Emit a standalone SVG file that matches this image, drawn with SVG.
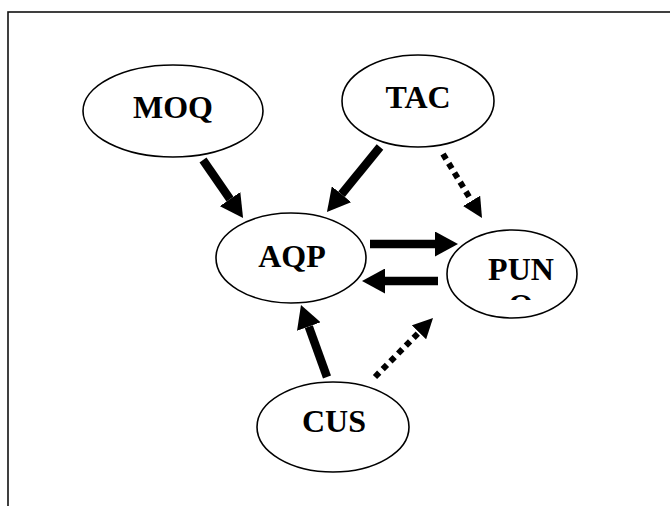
<svg xmlns="http://www.w3.org/2000/svg" width="670" height="506" viewBox="0 0 670 506">
<style>
.node ellipse{fill:#fff;stroke:#000;stroke-width:1.6}
.node text{font-family:"Liberation Serif","Times New Roman",serif;font-weight:bold;font-size:32px;text-anchor:middle;fill:#000}
.solid{stroke:#000;stroke-width:8.5;fill:none}
.dotted{stroke:#000;stroke-width:6;stroke-dasharray:6 5;fill:none}
</style>
<defs>
<marker id="head" markerUnits="userSpaceOnUse" markerWidth="23" markerHeight="25" viewBox="0 0 23 25" refX="0" refY="12.5" orient="auto"><path d="M0,0 L23,12.5 L0,25 z" fill="#000"/></marker>
<marker id="headd" markerUnits="userSpaceOnUse" markerWidth="20" markerHeight="20" viewBox="0 0 20 20" refX="0" refY="10" orient="auto"><path d="M0,0 L20,10 L0,20 z" fill="#000"/></marker>
<clipPath id="punclip"><rect x="440" y="230" width="150" height="70"/></clipPath>
</defs>
<rect x="8" y="12" width="700" height="520" fill="none" stroke="#111" stroke-width="1.6"/>
<g id="connectors">
<line class="solid" x1="203" y1="160" x2="230" y2="199.1" marker-end="url(#head)"/>
<line class="solid" x1="380" y1="147" x2="341.5" y2="194.2" marker-end="url(#head)"/>
<line class="dotted" x1="443" y1="154" x2="471.6" y2="200.9" marker-end="url(#headd)"/>
<line class="solid" x1="370" y1="244" x2="435" y2="244" marker-end="url(#head)"/>
<line class="solid" x1="438" y1="281" x2="385" y2="281" marker-end="url(#head)"/>
<line class="solid" x1="327" y1="377" x2="308.8" y2="326.6" marker-end="url(#head)"/>
<line class="dotted" x1="375" y1="377" x2="419" y2="332.3" marker-end="url(#headd)"/>
</g>
<g id="MOQ" class="node"><ellipse cx="173" cy="111" rx="90" ry="46"/><text x="173" y="118">MOQ</text></g>
<g id="TAC" class="node"><ellipse cx="418" cy="101" rx="76" ry="46"/><text x="418" y="108">TAC</text></g>
<g id="AQP" class="node"><ellipse cx="291" cy="258" rx="75" ry="45"/><text x="292" y="267">AQP</text></g>
<g id="PUNO" class="node"><ellipse cx="512" cy="274" rx="65" ry="44"/><g clip-path="url(#punclip)"><text x="521" y="280">PUN</text><text x="521" y="316">O</text></g></g>
<g id="CUS" class="node"><ellipse cx="333" cy="427" rx="76" ry="45"/><text x="334" y="432">CUS</text></g>
</svg>
